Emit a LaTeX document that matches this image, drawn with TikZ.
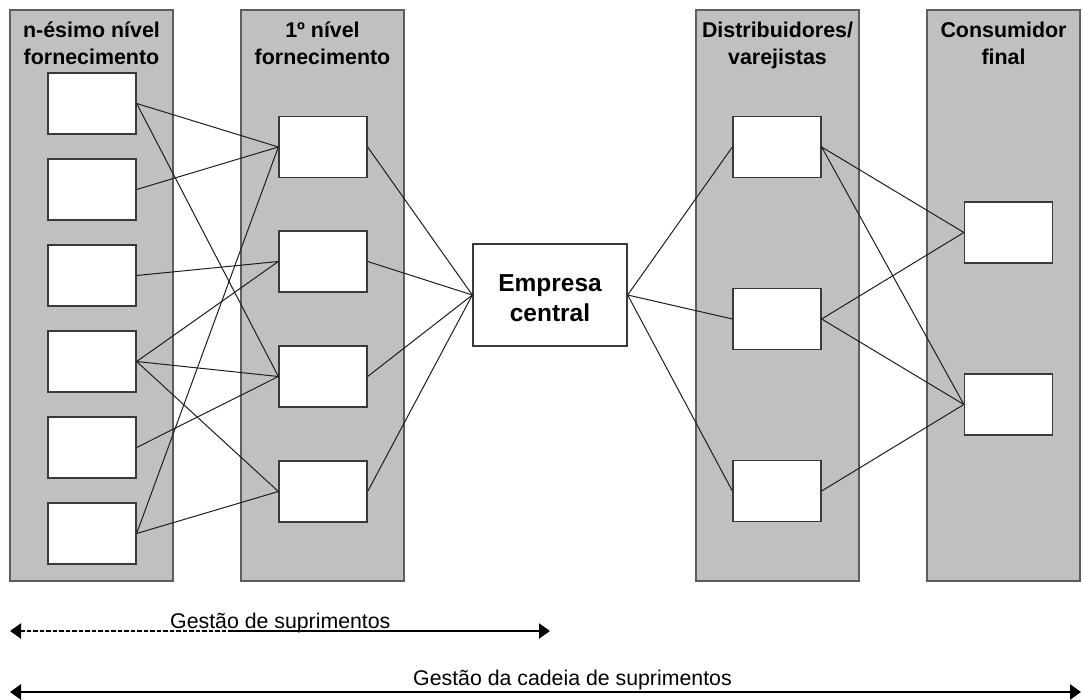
\documentclass[tikz,border=0pt]{standalone}
\usepackage{fontspec}
\setmainfont{Liberation Sans}
\usetikzlibrary{arrows.meta}
\definecolor{bandgray}{HTML}{C0C0C0}
\definecolor{bandedge}{HTML}{5E5E5E}
\definecolor{boxedge}{HTML}{3A3A3A}
\definecolor{linkcol}{HTML}{1E1E1E}
\tikzset{spantip/.tip={Triangle[length=11pt,width=15pt]}}
\begin{document}
\begin{tikzpicture}[x=1pt,y=-1pt,
  band/.style={fill=bandgray, draw=bandedge, line width=1.5pt, minimum height=571pt, inner sep=0pt},
  unit/.style={draw=boxedge, fill=white, line width=1.3pt, minimum width=88pt, minimum height=61pt, inner sep=0pt},
  hub/.style={draw=boxedge, fill=white, line width=1.3pt, minimum width=154pt, minimum height=102pt, inner sep=0pt},
  hdr/.style={font=\bfseries\fontsize{21.4}{25}\selectfont, anchor=base, inner sep=0pt},
  hubtxt/.style={font=\bfseries\fontsize{24.5}{30}\selectfont, anchor=base, inner sep=0pt},
  lbl/.style={font=\fontsize{21.3}{25}\selectfont, anchor=base west, inner sep=0pt},
  link/.style={draw=linkcol, line width=1pt},
  span/.style={draw=black, fill=black, line width=#1},
]
\useasboundingbox (0,0) rectangle (1083,700);

% stage bands
\node[band, minimum width=163pt] (col1) at (91.5,295.5) {};
\node[band, minimum width=163pt] (col2) at (322.5,295.5) {};
\node[band, minimum width=163pt] (col3) at (777.5,295.5) {};
\node[band, minimum width=153pt] (col4) at (1003.5,295.5) {};

% band headings
\node[hdr] (h1a) at (91.5,38) {n-ésimo nível};
\node[hdr] (h1b) at (91.5,65) {fornecimento};
\node[hdr] (h2a) at (322.5,38) {1º nível};
\node[hdr] (h2b) at (322.5,65) {fornecimento};
\node[hdr] (h3a) at (777.5,38) {Distribuidores/};
\node[hdr] (h3b) at (777.5,65) {varejistas};
\node[hdr] (h4a) at (1003.5,38) {Consumidor};
\node[hdr] (h4b) at (1003.5,65) {final};

% n-th tier suppliers
\node[unit] (a1) at (92,103.5) {};
\node[unit] (a2) at (92,189.5) {};
\node[unit] (a3) at (92,275.5) {};
\node[unit] (a4) at (92,361.5) {};
\node[unit] (a5) at (92,447.5) {};
\node[unit] (a6) at (92,533.5) {};

% first tier suppliers
\node[unit] (b1) at (323,147) {};
\node[unit] (b2) at (323,261.5) {};
\node[unit] (b3) at (323,376.5) {};
\node[unit] (b4) at (323,491.5) {};

% focal company
\node[hub] (hub) at (550,295) {};
\node[hubtxt] (e1) at (550,291) {Empresa};
\node[hubtxt] (e2) at (550,321) {central};

% distributors
\node[unit] (c1) at (777,147) {};
\node[unit] (c2) at (777,319) {};
\node[unit] (c3) at (777,491) {};

% final consumers
\node[unit] (d1) at (1008.5,232.5) {};
\node[unit] (d2) at (1008.5,404.5) {};

% supplier links
\draw[link] (a1.east) -- (b1.west);
\draw[link] (a1.east) -- (b3.west);
\draw[link] (a2.east) -- (b1.west);
\draw[link] (a3.east) -- (b2.west);
\draw[link] (a4.east) -- (b2.west);
\draw[link] (a4.east) -- (b3.west);
\draw[link] (a4.east) -- (b4.west);
\draw[link] (a5.east) -- (b3.west);
\draw[link] (a6.east) -- (b1.west);
\draw[link] (a6.east) -- (b4.west);
\foreach \b in {b1,b2,b3,b4} \draw[link] (\b.east) -- (hub.west);

% distribution links
\foreach \c in {c1,c2,c3} \draw[link] (hub.east) -- (\c.west);
\draw[link] (c1.east) -- (d1.west);
\draw[link] (c1.east) -- (d2.west);
\draw[link] (c2.east) -- (d1.west);
\draw[link] (c2.east) -- (d2.west);
\draw[link] (c3.east) -- (d2.west);

% scope arrows
\coordinate (s1l) at (10,631);
\coordinate (s1m) at (233,631);
\coordinate (s1r) at (550,631);
\draw[span=2.2pt, dash pattern=on 4.5pt off 2pt, {spantip}-] (s1l) -- (s1m);
\draw[span=2.2pt, -{spantip}] (s1m) -- (s1r);
\node[lbl] (t1) at (170,628) {Gestão de suprimentos};

\coordinate (s2l) at (10,692);
\coordinate (s2r) at (1081,692);
\draw[span=2.8pt, {spantip}-{spantip}] (s2l) -- (s2r);
\node[lbl] (t2) at (413,685) {Gestão da cadeia de suprimentos};
\end{tikzpicture}
\end{document}
